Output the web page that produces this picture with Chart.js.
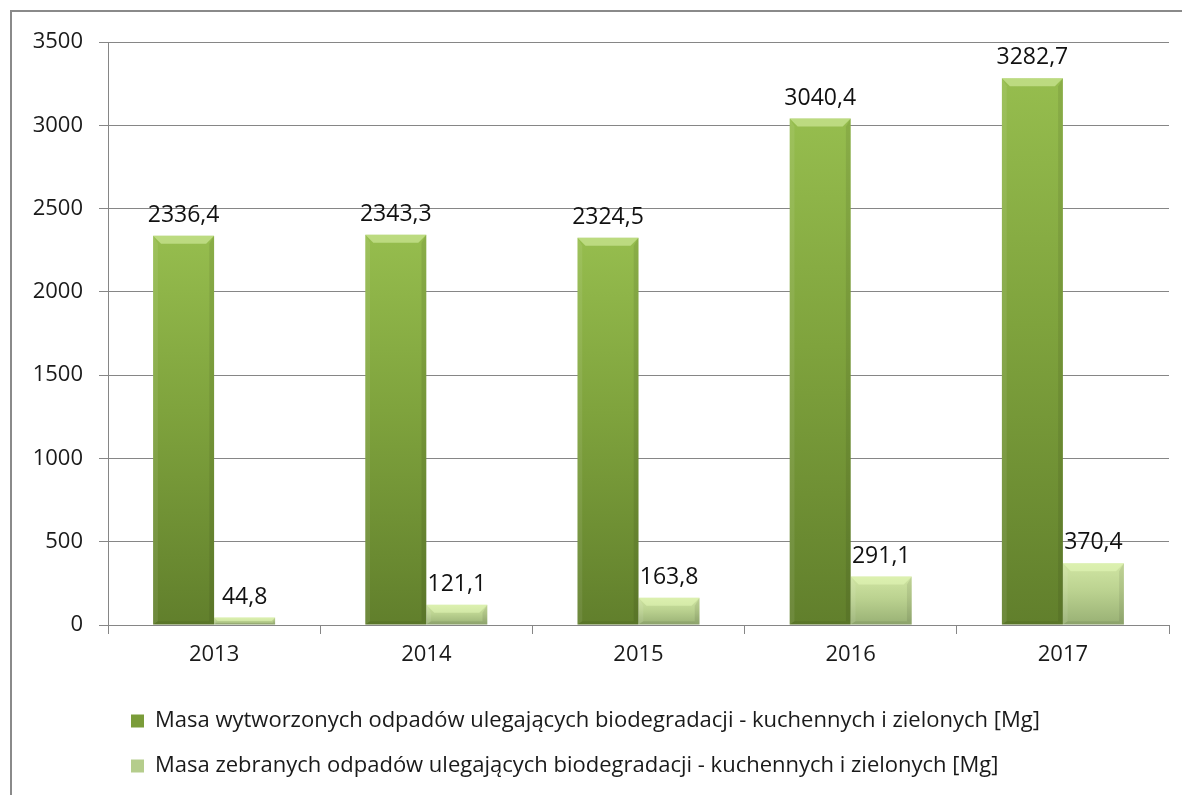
<!DOCTYPE html>
<html>
<head>
<meta charset="utf-8">
<script src="https://cdn.jsdelivr.net/npm/chart.js@4"></script>
<style>
  html, body { margin: 0; padding: 0; background: #fff; overflow: hidden; }
  #wrap { position: relative; width: 1182px; height: 795px; }
  #frame { position: absolute; left: 10px; top: 10px; width: 2000px; height: 2000px;
           border: 2px solid #8a8a8a; pointer-events: none; box-sizing: border-box; }
  canvas { position: absolute; left: 0; top: 0; }
</style>
</head>
<body>
<div id="wrap">
  <canvas id="c" width="1182" height="795"></canvas>
  <div id="frame"></div>
</div>
<script>
const categories = ['2013', '2014', '2015', '2016', '2017'];
const producedValues = [2336.4, 2343.3, 2324.5, 3040.4, 3282.7];
const collectedValues = [44.8, 121.1, 163.8, 291.1, 370.4];
const seriesLabels = [
  'Masa wytworzonych odpadów ulegających biodegradacji - kuchennych i zielonych [Mg]',
  'Masa zebranych odpadów ulegających biodegradacji - kuchennych i zielonych [Mg]'
];
const yTicks = [0, 500, 1000, 1500, 2000, 2500, 3000, 3500];

const FONT = "'Open Sans', 'Noto Sans', sans-serif";
const TXT = '#1a1a1a';
const darkStops = ['#96bd4e', '#7fa33d', '#617f2c'];
const lightStops = ['#d0e5a3', '#bbd290', '#98b074'];
const darkLegend = '#7a9c39';
const lightLegend = '#b5cd8c';

function barGradient(stops) {
  return function(ctx) {
    const chart = ctx.chart;
    const ys = chart.scales && chart.scales.y;
    if (!ys || ctx.raw === undefined) return stops[1];
    const top = ys.getPixelForValue(ctx.raw);
    const base = ys.getPixelForValue(0);
    if (!isFinite(top) || !isFinite(base) || base - top < 1) return stops[0];
    const g = chart.ctx.createLinearGradient(0, top, 0, base);
    g.addColorStop(0, stops[0]);
    g.addColorStop(0.45, stops[1]);
    g.addColorStop(1, stops[2]);
    return g;
  };
}

const bevelPlugin = {
  id: 'bevel',
  afterDatasetsDraw(chart) {
    const ctx = chart.ctx;
    chart.data.datasets.forEach((ds, di) => {
      const meta = chart.getDatasetMeta(di);
      meta.data.forEach(el => {
        const l = el.x - el.width / 2, r = el.x + el.width / 2;
        const t = el.y, b = el.base;
        const h = b - t;
        const s = Math.min(8, h / 2);
        if (s <= 0) return;
        ctx.save();
        ctx.fillStyle = 'rgba(235,255,190,0.45)';
        ctx.beginPath();
        ctx.moveTo(l, t); ctx.lineTo(r, t); ctx.lineTo(r - s, t + s); ctx.lineTo(l + s, t + s);
        ctx.closePath(); ctx.fill();
        ctx.fillStyle = 'rgba(255,255,255,0.08)';
        ctx.beginPath();
        ctx.moveTo(l, t); ctx.lineTo(l + s * 0.6, t + s); ctx.lineTo(l + s * 0.6, b - s * 0.4); ctx.lineTo(l, b);
        ctx.closePath(); ctx.fill();
        ctx.fillStyle = 'rgba(0,0,0,0.08)';
        ctx.beginPath();
        ctx.moveTo(r, t); ctx.lineTo(r, b); ctx.lineTo(r - s * 0.6, b - s * 0.4); ctx.lineTo(r - s * 0.6, t + s);
        ctx.closePath(); ctx.fill();
        ctx.fillStyle = 'rgba(0,0,0,0.08)';
        ctx.beginPath();
        ctx.moveTo(l, b); ctx.lineTo(r, b); ctx.lineTo(r - s * 0.6, b - s * 0.4); ctx.lineTo(l + s * 0.6, b - s * 0.4);
        ctx.closePath(); ctx.fill();
        ctx.restore();
      });
    });
  }
};

const labelPlugin = {
  id: 'valueLabels',
  afterDatasetsDraw(chart) {
    const ctx = chart.ctx;
    ctx.save();
    ctx.font = "23px " + FONT;
    ctx.fillStyle = '#111';
    ctx.textAlign = 'center';
    ctx.textBaseline = 'alphabetic';
    chart.data.datasets.forEach((ds, di) => {
      const meta = chart.getDatasetMeta(di);
      meta.data.forEach((el, i) => {
        const txt = ds.data[i].toFixed(1).replace('.', ',');
        ctx.fillText(txt, el.x, el.y - 14);
      });
    });
    ctx.restore();
  }
};

new Chart(document.getElementById('c'), {
  type: 'bar',
  data: {
    labels: categories,
    datasets: [
      { label: seriesLabels[0], data: producedValues, backgroundColor: barGradient(darkStops), borderWidth: 0 },
      { label: seriesLabels[1], data: collectedValues, backgroundColor: barGradient(lightStops), borderWidth: 0 }
    ]
  },
  options: {
    responsive: false,
    animation: false,
    devicePixelRatio: 1,
    layout: { padding: { left: 0, right: 13, top: 42, bottom: 8 } },
    datasets: { bar: { barPercentage: 1, categoryPercentage: 0.575 } },
    scales: {
      x: {
        grid: { display: true, drawOnChartArea: false, drawTicks: true, tickLength: 9, color: '#868686', offset: true },
        border: { display: true, color: '#868686', width: 1 },
        ticks: { color: TXT, font: { family: FONT, size: 22 }, padding: 8 },
        afterFit(s) { s.height = 62; }
      },
      y: {
        min: 0, max: 3500,
        afterBuildTicks(s) { s.ticks = yTicks.map(v => ({ value: v })); },
        grid: { color: '#868686', tickLength: 9, drawTicks: true },
        border: { display: true, color: '#868686', width: 1 },
        ticks: { color: TXT, font: { family: FONT, size: 22 }, padding: 16, callback: v => String(v) },
        afterFit(s) { s.width = 108; }
      }
    },
    plugins: {
      tooltip: { enabled: false },
      legend: {
        position: 'bottom',
        align: 'start',
        fullSize: false,
        labels: {
          color: TXT,
          font: { family: FONT, size: 22 },
          boxWidth: 13,
          boxHeight: 13,
          padding: 23,
          generateLabels(chart) {
            const items = Chart.defaults.plugins.legend.labels.generateLabels(chart);
            items.forEach((it, i) => { it.fillStyle = i === 0 ? darkLegend : lightLegend; it.strokeStyle = 'rgba(0,0,0,0)'; it.lineWidth = 0; });
            return items;
          }
        }
      }
    }
  },
  plugins: [bevelPlugin, labelPlugin]
});
</script>
</body>
</html>
